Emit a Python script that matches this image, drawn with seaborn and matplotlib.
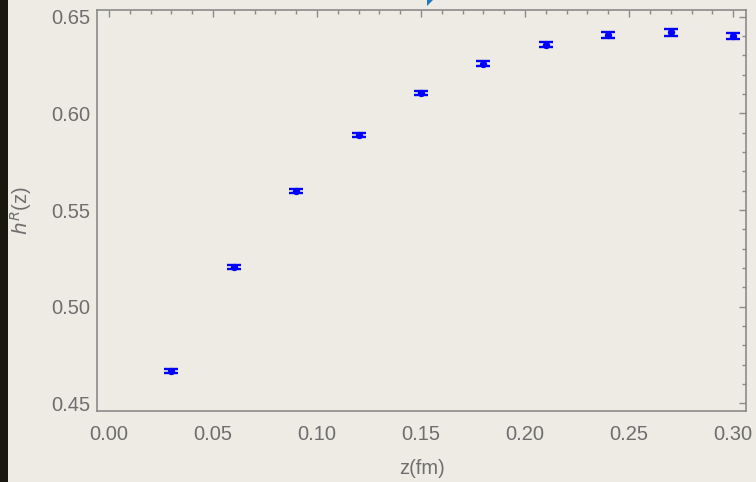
import matplotlib
matplotlib.use("Agg")
import matplotlib.pyplot as plt
from matplotlib.patches import Rectangle, Polygon
from matplotlib.ticker import MultipleLocator
import seaborn as sns
import pandas as pd

# Ratio h^R(z) versus separation z
z_fm = [0.03, 0.06, 0.09, 0.12, 0.15, 0.18, 0.21, 0.24, 0.27, 0.30]
h_ratio = [0.4668, 0.5205, 0.5598, 0.5888, 0.6104, 0.6256, 0.6354, 0.6403, 0.6419, 0.6401]
h_err = [0.0010, 0.0012, 0.0011, 0.0011, 0.0011, 0.0012, 0.0013, 0.0015, 0.0017, 0.0016]

x_ticks = [0.00, 0.05, 0.10, 0.15, 0.20, 0.25, 0.30]
y_ticks = [0.45, 0.50, 0.55, 0.60, 0.65]

bg = "#EEEBE4"
grey = "#6E6E6E"
frame = "#8A8A8A"
blue = "#0000FF"

sns.set_theme(style="white")
plt.rcParams["font.family"] = ["Liberation Sans", "DejaVu Sans"]

df = pd.DataFrame({"z": z_fm, "h": h_ratio, "err": h_err})

fig = plt.figure(figsize=(7.56, 4.82), dpi=100, facecolor=bg)
ax = fig.add_axes([97 / 756, 1 - 411 / 482, (746 - 97) / 756, (411 - 10) / 482])
ax.set_facecolor(bg)

ax.errorbar(df["z"], df["h"], yerr=df["err"], fmt="none", ecolor=blue,
            elinewidth=1.3, capsize=5, capthick=1.7, zorder=3)
sns.scatterplot(data=df, x="z", y="h", ax=ax, color=blue, s=28,
                edgecolor=blue, linewidth=0, zorder=4, legend=False)

ax.set_xlim(-0.0058, 0.3062)
ax.set_ylim(0.4461, 0.6534)
ax.set_xticks(x_ticks)
ax.set_yticks(y_ticks)
ax.set_xticklabels([f"{t:.2f}" for t in x_ticks])
ax.set_yticklabels([f"{t:.2f}" for t in y_ticks])
ax.xaxis.set_minor_locator(MultipleLocator(0.01))
ax.yaxis.set_minor_locator(MultipleLocator(0.01))

ax.tick_params(which="both", direction="in", top=True, right=True,
               labeltop=False, labelright=False, color=frame, width=1.0)
ax.tick_params(which="major", length=5.2, labelsize=14.5, labelcolor=grey)
ax.tick_params(axis="x", which="major", pad=10)
ax.tick_params(axis="y", which="major", pad=4.5)
ax.tick_params(which="minor", length=3.2)
for s in ax.spines.values():
    s.set_color(frame)
    s.set_linewidth(1.2)

ax.set_xlabel("z(fm)", fontsize=14.5, color=grey)
ax.set_ylabel("$h^R$(z)", fontsize=14.5, color=grey)
ax.xaxis.label.set_va("center")
ax.yaxis.label.set_va("center")
ax.xaxis.set_label_coords(0.5, (411 - 468) / 401)
ax.yaxis.set_label_coords((21 - 97) / 649, 0.5)

# dark strip at the left edge and the tip of an arrow above the frame
fig.patches.append(Rectangle((0, 0), 8 / 756, 1, transform=fig.transFigure,
                             facecolor="#19180E", edgecolor="none", zorder=10))
fig.patches.append(Polygon([(427 / 756, 1.0), (433 / 756, 1.0), (427 / 756, 1 - 6 / 482)],
                           closed=True, transform=fig.transFigure,
                           facecolor="#1F78C0", edgecolor="none", zorder=10))

fig.savefig("out.png", dpi=100, facecolor=bg)
